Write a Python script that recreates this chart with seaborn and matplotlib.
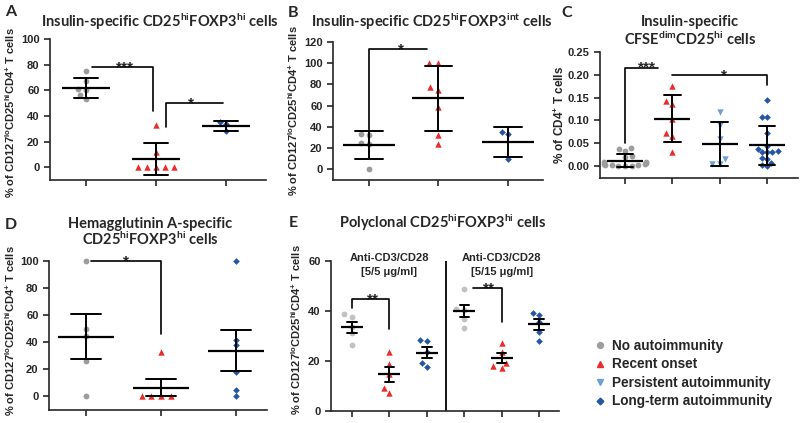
import warnings
import numpy as np
import pandas as pd
import matplotlib
matplotlib.use("Agg")
import matplotlib.pyplot as plt
from matplotlib.lines import Line2D
from matplotlib.ticker import FormatStrFormatter
import seaborn as sns

warnings.filterwarnings("ignore")

# ---- data ----
status_names = ["No autoimmunity", "Recent onset",
                "Persistent autoimmunity", "Long-term autoimmunity"]

a_no = [75, 67, 61, 60, 56, 53]
a_recent = [33, 12, 0, 0, 0, 0, 0]
a_long = [35, 34, 28]

b_no = [33, 32, 25, 24, 0]
b_recent = [100, 100, 78, 75, 59, 32, 24]
b_long = [35, 33, 10]

c_no = [0.04, 0.038, 0.033, 0.022, 0.02, 0.01, 0.008, 0.006,
        0.005, 0.004, 0.003, 0.002, 0.002, 0.001, 0.001, 0.0]
c_recent = [0.176, 0.143, 0.137, 0.104, 0.073, 0.065, 0.032]
c_persistent = [0.118, 0.09, 0.06, 0.015, 0.005, 0.005]
c_long = [0.145, 0.107, 0.107, 0.072, 0.043, 0.038, 0.033, 0.032,
          0.031, 0.03, 0.016, 0.017, 0.007, 0.002, 0.001]

d_no = [100, 50, 45, 26, 0]
d_recent = [33, 0, 0, 0, 0]
d_long = [100, 42, 38, 18, 5, 0]

e_conditions = ["5/5", "5/15"]
e_no = [[38.8, 37.7, 33.7, 31, 26.4], [48.8, 40.8, 40.4, 36.8, 33.2]]
e_recent = [[23.7, 18.8, 14.8, 9, 7], [27.3, 23.7, 19.3, 18.1, 17.1]]
e_long = [[28.4, 28, 23.7, 19, 17.7], [39.3, 38.4, 35.7, 31.7, 28.1]]

# ---- style ----
sns.set_style("ticks")
plt.rcParams["font.family"] = ["Liberation Sans", "DejaVu Sans"]
plt.rcParams["font.weight"] = "bold"
plt.rcParams["mathtext.default"] = "regular"
plt.rcParams["axes.linewidth"] = 1.2

markers = {"No autoimmunity": "o", "Recent onset": "^",
           "Persistent autoimmunity": "v", "Long-term autoimmunity": "D"}
colors = {"No autoimmunity": "#9c9c9c", "Recent onset": "#ec2b2b",
          "Persistent autoimmunity": "#6c9fd6", "Long-term autoimmunity": "#2556a6"}
sizes = {"No autoimmunity": 4.2, "Recent onset": 4.6,
         "Persistent autoimmunity": 4.6, "Long-term autoimmunity": 3.4}

ylab = "% of CD127$^{lo}$CD25$^{hi}$CD4$^{+}$ T cells"
title_font = dict(family=["Lato", "DejaVu Sans"], weight="bold", fontsize=10.5)

fig = plt.figure(figsize=(8, 4.23), dpi=100)
swarms = []


def panel(ax, groups, err, mean_w, cap, spread, gray=None):
    df = pd.concat([pd.DataFrame({"cat": c, "status": s, "val": v})
                    for c, s, v in groups], ignore_index=True)
    order = [c for c, _, _ in groups]
    for st in df["status"].unique():
        col = colors[st] if not (gray and st == status_names[0]) else gray
        n0 = len(ax.collections)
        sns.swarmplot(data=df[df["status"] == st], x="cat", y="val", order=order,
                      marker=markers[st], color=col, size=sizes[st],
                      linewidth=0, ax=ax, zorder=2, clip_on=False)
        swarms.extend((c, spread) for c in ax.collections[n0:])
    sns.pointplot(data=df, x="cat", y="val", order=order, errorbar=err,
                  capsize=cap, color="k", marker="_", markersize=mean_w,
                  markeredgewidth=1.6, linestyle="none",
                  err_kws={"linewidth": 1.4}, ax=ax, zorder=3)
    ax.set_xlabel("")
    ax.set_ylabel(ylab, fontsize=8, fontweight="bold")
    ax.tick_params(axis="x", labelbottom=False, length=4, width=1.2)
    ax.tick_params(axis="y", labelsize=8, length=4, width=1.2)
    sns.despine(ax=ax)


def bracket(ax, xs, ys, label, lx, ly):
    ax.plot(xs, ys, color="k", lw=1.2, clip_on=False, zorder=4)
    ax.annotate(label, xy=(lx, ly), xytext=(0, -3.2), textcoords="offset points",
                ha="center", va="baseline", fontsize=11, fontweight="bold",
                annotation_clip=False)


# ---- A ----
axA = fig.add_axes([0.0625, 0.5745, 0.27, 0.3333])
panel(axA, [("No", status_names[0], a_no), ("Recent", status_names[1], a_recent),
            ("Long", status_names[3], a_long)], "sd", 34, 0.33, 1.35)
axA.set_ylim(-10, 100)
axA.set_yticks(range(0, 101, 20))
axA.set_xlim(-0.514, 2.571)
axA.yaxis.set_label_coords(-0.153, 0.48)
bracket(axA, [0.086, 0.96, 0.96], [78.5, 78.5, 44], "***", 0.55, 78.5)
bracket(axA, [1.14, 1.14, 1.96], [31, 50, 50], "*", 1.5, 50)

# ---- B ----
axB = fig.add_axes([0.41625, 0.5745, 0.2625, 0.3262])
panel(axB, [("No", status_names[0], b_no), ("Recent", status_names[1], b_recent),
            ("Long", status_names[3], b_long)], "sd", 38, 0.4, 1.4)
axB.set_ylim(-10, 120)
axB.set_yticks(range(0, 121, 20))
axB.set_xlim(-0.518, 2.504)
axB.yaxis.set_label_coords(-0.157, 0.5)
bracket(axB, [0, 0, 0.83], [37, 113.8, 113.8], "*", 0.46, 113.8)

# ---- C ----
axC = fig.add_axes([0.75, 0.5792, 0.2475, 0.2979])
panel(axC, [("No", status_names[0], c_no), ("Recent", status_names[1], c_recent),
            ("Persistent", status_names[2], c_persistent),
            ("Long", status_names[3], c_long)], "sd", 26, 0.35, 1.1)
axC.set_ylim(-0.026, 0.25)
axC.set_yticks(np.arange(0, 0.26, 0.05))
axC.yaxis.set_major_formatter(FormatStrFormatter("%.2f"))
axC.set_xlim(-0.528, 3.655)
axC.set_ylabel("% of CD4$^{+}$ T cells", fontsize=8.5, fontweight="bold")
axC.yaxis.set_label_coords(-0.167, 0.5)
bracket(axC, [0, 0, 0.7], [0.05, 0.216, 0.216], "***", 0.46, 0.216)
bracket(axC, [1.0, 3.0, 3.0], [0.2, 0.2, 0.178], "*", 2.1, 0.2)

# ---- D ----
axD = fig.add_axes([0.06125, 0.0307, 0.2725, 0.3522])
panel(axD, [("No", status_names[0], d_no), ("Recent", status_names[1], d_recent),
            ("Long", status_names[3], d_long)], "se", 41, 0.4, 1.45)
axD.set_ylim(-10, 100)
axD.set_yticks(range(0, 101, 20))
axD.set_xlim(-0.493, 2.413)
axD.yaxis.set_label_coords(-0.147, 0.53)
bracket(axD, [0.07, 1.0, 1.0], [100, 100, 46], "*", 0.53, 100)

# ---- E ----
axE = fig.add_axes([0.41375, 0.0284, 0.285, 0.3546])
e_groups = []
for i, cond in enumerate(e_conditions):
    e_groups += [("No " + cond, status_names[0], e_no[i]),
                 ("Recent " + cond, status_names[1], e_recent[i]),
                 ("Long " + cond, status_names[3], e_long[i])]
panel(axE, e_groups, "se", 16.5, 0.25, 1.4, gray="#c2c2c2")
axE.set_ylim(0, 60)
axE.set_yticks(range(0, 61, 20))
axE.set_xlim(-0.56, 5.53)
axE.yaxis.set_label_coords(-0.123, 0.54)
axE.axvline(2.5, color="k", lw=1.3)
for i, cond in enumerate(e_conditions):
    axE.text(1 + 3 * i, 61.2, "Anti-CD3/CD28", ha="center", va="center",
             fontsize=8, fontweight="bold")
    axE.text(1 + 3 * i, 55.7, "[" + cond + " μg/ml]", ha="center", va="center",
             fontsize=8, fontweight="bold")
bracket(axE, [0, 0, 1, 1], [41, 44.7, 44.7, 32.8], "**", 0.56, 44.7)
bracket(axE, [3.24, 4, 4], [49.3, 49.3, 35.7], "**", 3.67, 49.3)

# ---- titles and panel letters ----
fig.text(0.2, 0.948, "Insulin-specific CD25$^{hi}$FOXP3$^{hi}$ cells",
         ha="center", va="center", **title_font)
fig.text(0.54, 0.948, "Insulin-specific CD25$^{hi}$FOXP3$^{int}$ cells",
         ha="center", va="center", **title_font)
fig.text(0.8625, 0.947, "Insulin-specific", ha="center", va="center", **title_font)
fig.text(0.8625, 0.907, "CFSE$^{dim}$CD25$^{hi}$ cells", ha="center", va="center",
         **title_font)
fig.text(0.1875, 0.470, "Hemagglutinin A-specific", ha="center", va="center",
         **title_font)
fig.text(0.1875, 0.435, "CD25$^{hi}$FOXP3$^{hi}$ cells", ha="center", va="center",
         **title_font)
fig.text(0.554, 0.473, "Polyclonal CD25$^{hi}$FOXP3$^{hi}$ cells",
         ha="center", va="center", **title_font)

letter_font = dict(family=["Lato", "DejaVu Sans"], weight="bold", fontsize=11.5,
                   ha="center", va="center")
fig.text(11 / 800, 1 - 12 / 423, "A", **letter_font)
fig.text(293 / 800, 1 - 13 / 423, "B", **letter_font)
fig.text(567 / 800, 1 - 13 / 423, "C", **letter_font)
fig.text(11 / 800, 1 - 225 / 423, "D", **letter_font)
fig.text(293 / 800, 1 - 223 / 423, "E", **letter_font)

# ---- legend ----
handles = [Line2D([], [], linestyle="none", marker=markers[s], color=colors[s],
                  markersize=sizes[s]) for s in status_names]
fig.legend(handles, status_names, loc="upper left", bbox_to_anchor=(0.743, 0.199),
           frameon=False, handlelength=0.8, handletextpad=0.5, borderpad=0,
           borderaxespad=0, labelspacing=0.33,
           prop={"family": "Liberation Sans", "weight": "bold", "size": 9.8})

# ---- spread the swarms a bit wider, like the original column scatter ----
fig.canvas.draw()
for coll, f in swarms:
    off = np.array(coll.get_offsets(), dtype=float)
    if len(off) == 0:
        continue
    c = np.round(off[:, 0])
    off[:, 0] = c + (off[:, 0] - c) * f
    if "draw" in vars(coll):
        del coll.draw
    coll.set_offsets(off)

fig.savefig("out.png", dpi=100)
